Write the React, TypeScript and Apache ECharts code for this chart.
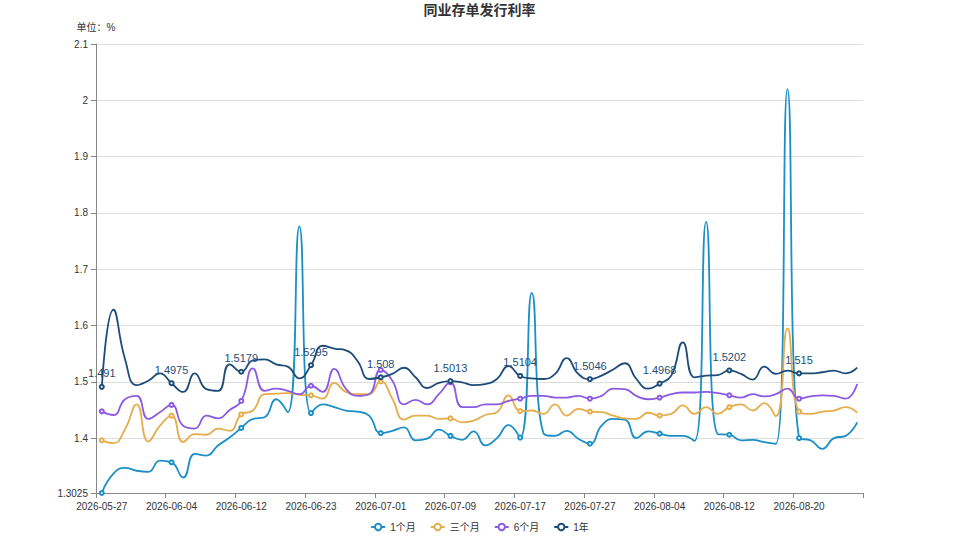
import React, { useEffect, useRef } from "react";
import * as echarts from "echarts";

const dates = [
  "2026-05-27", "2026-05-28", "2026-05-29", "2026-06-01", "2026-06-02", "2026-06-03",
  "2026-06-04", "2026-06-05", "2026-06-08", "2026-06-09", "2026-06-10", "2026-06-11",
  "2026-06-12", "2026-06-15", "2026-06-16", "2026-06-17", "2026-06-18", "2026-06-22",
  "2026-06-23", "2026-06-24", "2026-06-25", "2026-06-26", "2026-06-29", "2026-06-30",
  "2026-07-01", "2026-07-02", "2026-07-03", "2026-07-06", "2026-07-07", "2026-07-08",
  "2026-07-09", "2026-07-10", "2026-07-13", "2026-07-14", "2026-07-15", "2026-07-16",
  "2026-07-17", "2026-07-20", "2026-07-21", "2026-07-22", "2026-07-23", "2026-07-24",
  "2026-07-27", "2026-07-28", "2026-07-29", "2026-07-30", "2026-07-31", "2026-08-03",
  "2026-08-04", "2026-08-05", "2026-08-06", "2026-08-07", "2026-08-10", "2026-08-11",
  "2026-08-12", "2026-08-13", "2026-08-14", "2026-08-17", "2026-08-18", "2026-08-19",
  "2026-08-20", "2026-08-21", "2026-08-24", "2026-08-25", "2026-08-26", "2026-08-27",
];

const m1 = [
  1.3025, 1.337, 1.347, 1.342, 1.34, 1.36,
  1.357, 1.33, 1.372, 1.369, 1.387, 1.401,
  1.418, 1.434, 1.437, 1.469, 1.446, 1.776,
  1.4445, 1.46, 1.455, 1.449, 1.447, 1.44,
  1.409, 1.413, 1.419, 1.396, 1.399, 1.415,
  1.404, 1.397, 1.412, 1.387, 1.4, 1.423,
  1.401, 1.658, 1.409, 1.404, 1.413, 1.399,
  1.39, 1.422, 1.434, 1.433, 1.4, 1.412,
  1.408, 1.404, 1.404, 1.395, 1.784, 1.407,
  1.406, 1.396, 1.397, 1.393, 1.39, 2.02,
  1.4, 1.396, 1.381, 1.4, 1.404, 1.428,
];

const m3 = [
  1.396, 1.391, 1.416, 1.46, 1.394, 1.422,
  1.44, 1.393, 1.407, 1.406, 1.417, 1.413,
  1.442, 1.449, 1.478, 1.479, 1.48, 1.477,
  1.476, 1.47, 1.498, 1.482, 1.478, 1.478,
  1.5006, 1.47, 1.433, 1.44, 1.44, 1.434,
  1.435, 1.428, 1.431, 1.441, 1.446, 1.476,
  1.448, 1.449, 1.443, 1.46, 1.44, 1.452,
  1.447, 1.446, 1.44, 1.435, 1.434, 1.445,
  1.44, 1.443, 1.458, 1.443, 1.455, 1.443,
  1.455, 1.46, 1.449, 1.462, 1.439, 1.595,
  1.447, 1.443, 1.447, 1.449, 1.455, 1.445,
];

const m6 = [
  1.4475, 1.441, 1.469, 1.475, 1.434, 1.446,
  1.459, 1.422, 1.417, 1.44, 1.435, 1.45,
  1.466, 1.524, 1.484, 1.488, 1.484, 1.478,
  1.493, 1.482, 1.523, 1.488, 1.475, 1.478,
  1.521, 1.502, 1.46, 1.468, 1.46, 1.478,
  1.499, 1.455, 1.455, 1.46, 1.46, 1.466,
  1.47, 1.475, 1.475, 1.472, 1.472, 1.475,
  1.47, 1.475, 1.488, 1.487, 1.475, 1.469,
  1.472, 1.478, 1.481, 1.481, 1.482, 1.48,
  1.476, 1.472, 1.478, 1.474, 1.478, 1.488,
  1.47, 1.474, 1.476, 1.475, 1.47, 1.496,
];

const y1 = [
  1.491, 1.628, 1.54, 1.494, 1.502, 1.515,
  1.4975, 1.482, 1.515, 1.487, 1.484, 1.531,
  1.5179, 1.538, 1.54, 1.531, 1.527, 1.506,
  1.5295, 1.564, 1.559, 1.556, 1.537, 1.505,
  1.508, 1.514, 1.525, 1.508, 1.489, 1.498,
  1.5013, 1.499, 1.494, 1.496, 1.505, 1.528,
  1.5104, 1.506, 1.505, 1.514, 1.542, 1.514,
  1.5046, 1.511, 1.522, 1.533, 1.505, 1.488,
  1.4968, 1.511, 1.57, 1.508, 1.511, 1.512,
  1.5202, 1.514, 1.504, 1.527, 1.514, 1.52,
  1.515, 1.515, 1.517, 1.52, 1.515, 1.525,
];

const seriesNames = ["1个月", "三个月", "6个月", "1年"];
const seriesColors = ["#1b8fc6", "#e5ad4c", "#8c5ae3", "#1d4c79"];
const yMin = 1.3025;
const yMax = 2.1;

const FONT = 'Arial, "Liberation Sans", "Noto Sans CJK SC", sans-serif';

export default function App() {
  const ref = useRef<HTMLDivElement>(null);
  useEffect(() => {
    if (!ref.current) return;
    const chart = echarts.init(ref.current, undefined, { renderer: "svg" });
    const allData = [m1, m3, m6, y1];
    chart.setOption({
      animation: false,
      backgroundColor: "#ffffff",
      color: seriesColors,
      textStyle: { fontFamily: FONT },
      title: {
        text: "同业存单发行利率",
        left: "center",
        top: -2,
        textStyle: { fontSize: 14, fontWeight: "bold", color: "#333", fontFamily: FONT },
      },
      legend: {
        top: 517,
        left: "center",
        itemWidth: 14,
        itemHeight: 8,
        itemGap: 14,
        textStyle: { fontSize: 10, color: "#333", fontFamily: FONT },
        data: seriesNames,
      },
      grid: { left: 96, right: 96, top: 44, bottom: 46, containLabel: false },
      xAxis: {
        type: "category",
        data: dates,
        boundaryGap: true,
        axisLine: { show: true, lineStyle: { color: "#888" } },
        axisTick: { show: true, interval: 5, lineStyle: { color: "#888" } },
        axisLabel: { interval: 5, fontSize: 10, color: "#333", fontFamily: FONT, margin: 8 },
      },
      yAxis: {
        type: "value",
        name: "单位：%",
        nameLocation: "end",
        nameGap: 12,
        nameTextStyle: { fontSize: 10, color: "#333", fontFamily: FONT },
        min: yMin,
        max: yMax,
        splitNumber: 8,
        axisLine: { show: true, lineStyle: { color: "#888" } },
        axisTick: { show: true, lineStyle: { color: "#888" } },
        axisLabel: { fontSize: 10, color: "#333", fontFamily: FONT },
        splitLine: { show: true, lineStyle: { color: "#ddd" } },
      },
      series: seriesNames.map((name, idx) => ({
        name,
        type: "line",
        data: allData[idx],
        smooth: true,
        symbol: "emptyCircle",
        symbolSize: 4,
        showAllSymbol: false,
        lineStyle: { width: 1.8 },
        itemStyle: { borderWidth: 1 },
        label: {
          show: idx === 3,
          position: "top",
          fontSize: 11,
          color: seriesColors[idx],
          fontFamily: FONT,
        },
      })),
    });
    return () => chart.dispose();
  }, []);
  return (
    <div
      ref={ref}
      style={{ position: "absolute", left: 0, top: 0, width: 959, height: 539 }}
    />
  );
}
